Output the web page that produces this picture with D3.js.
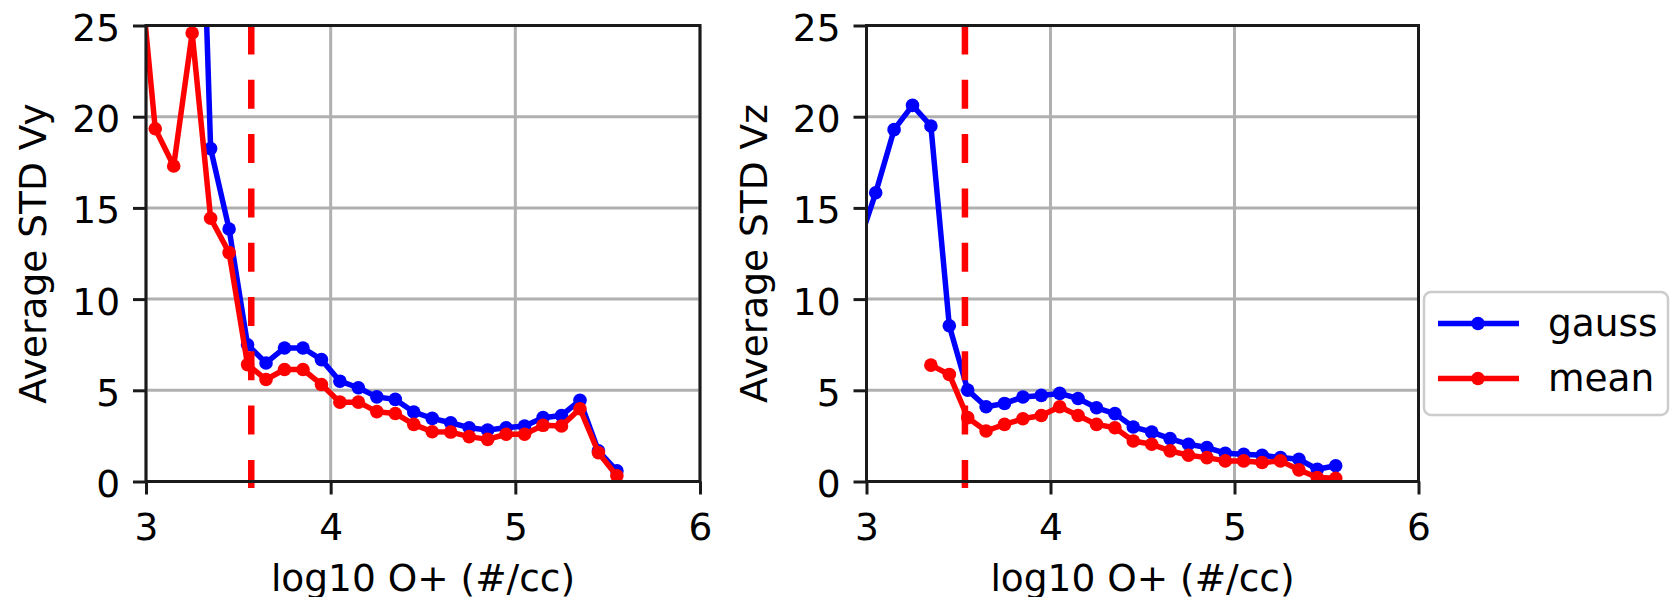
<!DOCTYPE html>
<html>
<head>
<meta charset="utf-8">
<script src="https://cdn.jsdelivr.net/npm/d3@7"></script>
<style>
  html, body { margin: 0; padding: 0; background: #fff; }
  svg { display: block; }
  text { font-family: "DejaVu Sans", sans-serif; fill: #000; }
</style>
</head>
<body>
<svg id="chart" width="1670" height="597"></svg>
<script>
// ---------------- data ----------------
const logO = [2.95, 3.05, 3.15, 3.25, 3.35, 3.45, 3.55, 3.65, 3.75, 3.85, 3.95,
              4.05, 4.15, 4.25, 4.35, 4.45, 4.55, 4.65, 4.75, 4.85, 4.95,
              5.05, 5.15, 5.25, 5.35, 5.45, 5.55];

const vyGauss = [null, null, null, 50.0, 18.25, 13.84, 7.50, 6.50, 7.32, 7.32, 6.68,
                 5.50, 5.14, 4.64, 4.50, 3.81, 3.46, 3.22, 2.95, 2.82, 2.95,
                 3.04, 3.50, 3.62, 4.45, 1.68, 0.58];
const vyMean  = [30.0, 19.34, 17.30, 24.59, 14.43, 12.55, 6.41, 5.59, 6.14, 6.14, 5.32,
                 4.35, 4.35, 3.83, 3.73, 3.13, 2.73, 2.71, 2.46, 2.31, 2.59,
                 2.59, 3.08, 3.04, 3.99, 1.58, 0.31];

const vzGauss = [12.8, 15.83, 19.29, 20.62, 19.49, 8.54, 5.01, 4.10, 4.28, 4.63, 4.72,
                 4.83, 4.55, 4.04, 3.72, 2.99, 2.71, 2.35, 2.04, 1.86, 1.55,
                 1.49, 1.44, 1.31, 1.22, 0.67, 0.86];
const vzMean  = [null, null, null, null, 6.38, 5.87, 3.50, 2.77, 3.13, 3.44, 3.62,
                 4.10, 3.62, 3.13, 2.95, 2.22, 2.04, 1.68, 1.44, 1.31, 1.13,
                 1.13, 1.04, 1.13, 0.64, 0.22, 0.18];

const thresholdVy = 3.57;
const thresholdVz = 3.535;

const xTicks = [3, 4, 5, 6];
const yTicks = [0, 5, 10, 15, 20, 25];
const seriesNames = ["gauss", "mean"];
const seriesColors = ["#0000ff", "#ff0000"];
const xLabel = "log10 O+ (#/cc)";
const yLabels = ["Average STD Vy", "Average STD Vz"];

// ---------------- layout ----------------
const svg = d3.select("#chart");
const FS = 37.5;
const yTop = 25.5, yBot = 481.5;
const panels = [
  { x0: 146, x1: 700, gauss: vyGauss, mean: vyMean, thr: thresholdVy, ylab: yLabels[0] },
  { x0: 866.5, x1: 1418.5, gauss: vzGauss, mean: vzMean, thr: thresholdVz, ylab: yLabels[1] }
];

const defs = svg.append("defs");

panels.forEach((p, i) => {
  const x = d3.scaleLinear().domain([3, 6]).range([p.x0, p.x1]);
  const y = d3.scaleLinear().domain([0, 25]).range([yBot, yTop]);
  const g = svg.append("g");

  const clipId = "clip" + i;
  defs.append("clipPath").attr("id", clipId)
    .append("rect").attr("x", p.x0).attr("y", yTop)
    .attr("width", p.x1 - p.x0).attr("height", yBot - yTop);

  // grid
  g.append("g").selectAll("line").data(xTicks).join("line")
    .attr("x1", d => x(d)).attr("x2", d => x(d))
    .attr("y1", yTop).attr("y2", yBot)
    .attr("stroke", "#b0b0b0").attr("stroke-width", 3);
  g.append("g").selectAll("line").data(yTicks).join("line")
    .attr("x1", p.x0).attr("x2", p.x1)
    .attr("y1", d => y(d)).attr("y2", d => y(d))
    .attr("stroke", "#b0b0b0").attr("stroke-width", 3);

  // series
  const plotArea = g.append("g").attr("clip-path", `url(#${clipId})`);
  [p.gauss, p.mean].forEach((vals, si) => {
    const pts = logO.map((lx, k) => ({ x: lx, y: vals[k] })).filter(d => d.y != null);
    const line = d3.line().x(d => x(d.x)).y(d => y(d.y));
    plotArea.append("path").datum(pts)
      .attr("d", line)
      .attr("fill", "none")
      .attr("stroke", seriesColors[si])
      .attr("stroke-width", 5.5)
      .attr("stroke-linejoin", "round");
    plotArea.append("g").selectAll("circle").data(pts).join("circle")
      .attr("cx", d => x(d.x)).attr("cy", d => y(d.y))
      .attr("r", 6.8).attr("fill", seriesColors[si]);
  });

  // threshold dashed line
  g.append("line")
    .attr("x1", x(p.thr)).attr("x2", x(p.thr))
    .attr("y1", yTop).attr("y2", 488)
    .attr("stroke", "#ff0000").attr("stroke-width", 6.5)
    .attr("stroke-dasharray", "29,25.3");

  // spines
  g.append("rect")
    .attr("x", p.x0).attr("y", yTop)
    .attr("width", p.x1 - p.x0).attr("height", yBot - yTop)
    .attr("fill", "none").attr("stroke", "#1a1a1a").attr("stroke-width", 3);

  // x axis ticks
  const xAxis = d3.axisBottom(x).tickValues(xTicks).tickSize(13).tickPadding(0).tickFormat(d3.format("d"));
  const xa = g.append("g").attr("transform", `translate(0,${yBot})`).call(xAxis);
  xa.select(".domain").remove();
  xa.selectAll(".tick line").attr("stroke", "#1a1a1a").attr("stroke-width", 3);
  xa.selectAll(".tick text")
    .attr("y", 58).attr("dy", null)
    .style("font-family", "DejaVu Sans").style("font-size", FS + "px").attr("fill", "#000");

  // y axis ticks
  const yAxis = d3.axisLeft(y).tickValues(yTicks).tickSize(13).tickPadding(0).tickFormat(d3.format("d"));
  const ya = g.append("g").attr("transform", `translate(${p.x0},0)`).call(yAxis);
  ya.select(".domain").remove();
  ya.selectAll(".tick line").attr("stroke", "#1a1a1a").attr("stroke-width", 3);
  ya.selectAll(".tick text")
    .attr("x", -26).attr("dy", null).attr("y", 15)
    .style("font-family", "DejaVu Sans").style("font-size", FS + "px").attr("fill", "#000");

  // labels
  g.append("text")
    .attr("x", (p.x0 + p.x1) / 2).attr("y", 591)
    .attr("text-anchor", "middle")
    .style("font-size", FS + "px")
    .text(xLabel);
  g.append("text")
    .attr("transform", `translate(${p.x0 - 100},${(yTop + yBot) / 2}) rotate(-90)`)
    .attr("text-anchor", "middle")
    .style("font-size", FS + "px")
    .text(p.ylab);
});

// legend
const lg = svg.append("g");
lg.append("rect")
  .attr("x", 1424).attr("y", 292).attr("width", 244).attr("height", 123)
  .attr("rx", 7).attr("ry", 7)
  .attr("fill", "#fff").attr("fill-opacity", 0.8)
  .attr("stroke", "#cccccc").attr("stroke-width", 2.5);
const legendY = [323.5, 378.5];
seriesNames.forEach((name, i) => {
  lg.append("line")
    .attr("x1", 1438).attr("x2", 1519)
    .attr("y1", legendY[i]).attr("y2", legendY[i])
    .attr("stroke", seriesColors[i]).attr("stroke-width", 5.5);
  lg.append("circle")
    .attr("cx", 1478).attr("cy", legendY[i]).attr("r", 6.8)
    .attr("fill", seriesColors[i]);
  lg.append("text")
    .attr("x", 1548).attr("y", legendY[i] + 12.5)
    .style("font-size", FS + "px")
    .text(name);
});
</script>
</body>
</html>
